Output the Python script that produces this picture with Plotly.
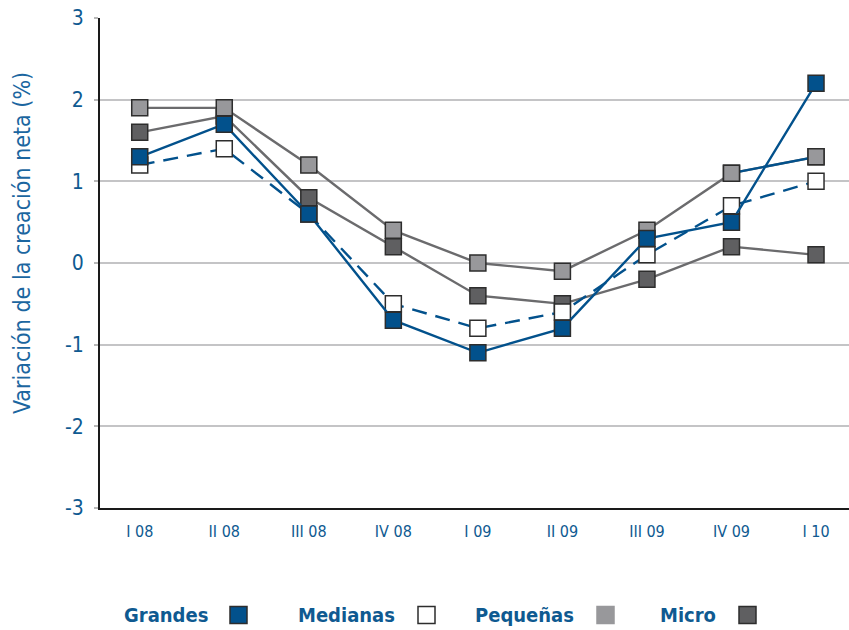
import plotly.graph_objects as go

categories = ["I 08", "II 08", "III 08", "IV 08", "I 09", "II 09", "III 09", "IV 09", "I 10"]
grandes = [1.3, 1.7, 0.6, -0.7, -1.1, -0.8, 0.3, 0.5, 2.2]
medianas = [1.2, 1.4, 0.6, -0.5, -0.8, -0.6, 0.1, 0.7, 1.0]
pequenas = [1.9, 1.9, 1.2, 0.4, 0.0, -0.1, 0.4, 1.1, 1.3]
micro = [1.6, 1.8, 0.8, 0.2, -0.4, -0.5, -0.2, 0.2, 0.1]
y_ticks = [-3, -2, -1, 0, 1, 2, 3]
y_ticktext = ["-3", "-2", "-1", "0", "1", "2", "3"]

BLUE = "#02518c"
LGRAY = "#98989b"
DGRAY = "#5f5f61"
LINEGRAY = "#6b6b6d"
BORDER = "#2d2d2d"
TXT = "#0f5a91"
FONT = "Liberation Sans Narrow, DejaVu Sans Condensed, Arial Narrow, sans-serif"

x_idx = list(range(len(categories)))

fig = go.Figure()

def add(y, fill, line_color, dash="solid"):
    fig.add_trace(go.Scatter(
        x=x_idx, y=y, mode="lines+markers",
        line=dict(color=line_color, width=2.4, dash=dash),
        marker=dict(symbol="square", size=16, color=fill,
                    line=dict(color=BORDER, width=1.5)),
        showlegend=False, hoverinfo="skip"))

add(micro, DGRAY, LINEGRAY)
add(pequenas, LGRAY, LINEGRAY)
# last Pequeñas segment drawn in blue as in the original
fig.add_trace(go.Scatter(x=x_idx[7:], y=pequenas[7:], mode="lines",
                         line=dict(color=BLUE, width=2.4), showlegend=False, hoverinfo="skip"))
fig.add_trace(go.Scatter(x=x_idx[7:], y=pequenas[7:], mode="markers",
                         marker=dict(symbol="square", size=16, color=LGRAY,
                                     line=dict(color=BORDER, width=1.5)),
                         showlegend=False, hoverinfo="skip"))
add(medianas, "white", BLUE, dash="15px,9px")
add(grandes, BLUE, BLUE)

L, T, B, W, H = 100, 18, 122, 849, 630
pw = W - L
ph = H - T - B

fig.update_layout(
    width=W, height=H,
    margin=dict(l=L, r=0, t=T, b=B),
    paper_bgcolor="white", plot_bgcolor="white",
    font=dict(family=FONT, color=TXT),
    xaxis=dict(
        range=[-0.47, 8.39], tickmode="array", tickvals=x_idx, ticktext=categories,
        showgrid=False, zeroline=False, showline=True, linecolor="#1a1a1a", linewidth=2,
        ticks="", tickfont=dict(size=16, color=TXT, family=FONT), ticklabelstandoff=8,
    ),
    yaxis=dict(
        range=[-3, 3], tickmode="array", tickvals=y_ticks, ticktext=y_ticktext,
        showgrid=True, gridcolor="#c4c4c6", gridwidth=2, zeroline=False,
        showline=True, linecolor="#1a1a1a", linewidth=2,
        ticks="outside", ticklen=4, tickcolor="#b8b8b8", tickwidth=2,
        tickfont=dict(size=21, color=TXT, family=FONT), ticklabelstandoff=6,
    ),
)

fig.add_annotation(
    text="Variación de la creación neta (%)", textangle=-90,
    xref="paper", yref="paper", x=(22 - L) / pw, y=(H - B - 243) / ph,
    xanchor="center", yanchor="middle", showarrow=False,
    font=dict(size=23, color="#1b66a0", family=FONT))

legend_items = [
    ("Grandes", 122, 230, BLUE, BORDER),
    ("Medianas", 296, 418, "white", BORDER),
    ("Pequeñas", 473, 597, LGRAY, LGRAY),
    ("Micro", 658, 739, DGRAY, BORDER),
]
ly = 615
for name, tx, sx, fill, bc in legend_items:
    fig.add_annotation(
        text=f"<b>{name}</b>", xref="paper", yref="paper",
        x=(tx - L) / pw, y=(H - B - ly) / ph, xanchor="left", yanchor="middle",
        showarrow=False, font=dict(size=20, color=TXT, family=FONT))
    fig.add_shape(
        type="rect", xref="paper", yref="paper",
        x0=(sx - L) / pw, x1=(sx + 17 - L) / pw,
        y0=(H - B - (ly + 8.5)) / ph, y1=(H - B - (ly - 8.5)) / ph,
        fillcolor=fill, line=dict(color=bc, width=1.5))

fig.write_html("out.html", config={"displayModeBar": False},
               post_script="document.body.style.margin='0';document.body.style.overflow='hidden';")
